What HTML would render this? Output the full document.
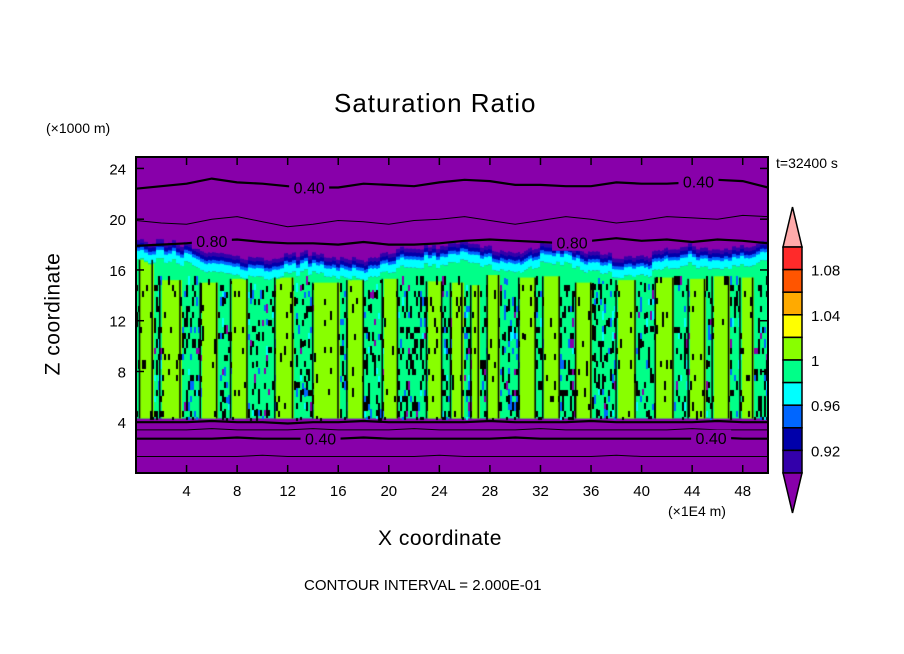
<!DOCTYPE html>
<html><head><meta charset="utf-8"><style>
body{margin:0;background:#fff;}
#wrap{position:relative;width:904px;height:654px;overflow:hidden;font-family:"Liberation Sans",sans-serif;}
.t{position:absolute;white-space:nowrap;color:#000;}
</style></head><body>
<div id="wrap">
<div class="t" style="left:334px;top:88px;font-size:26px;letter-spacing:1px;">Saturation Ratio</div>
<div class="t" style="left:46px;top:120px;font-size:14px;">(×1000 m)</div>
<div class="t" style="left:776px;top:155px;font-size:14px;">t=32400 s</div>
<div class="t" style="left:668px;top:503px;font-size:14px;">(×1E4 m)</div>
<div class="t" style="left:378px;top:527px;font-size:21px;letter-spacing:0.5px;">X coordinate</div>
<div class="t" style="left:-8px;top:302px;font-size:21px;transform:rotate(-90deg);letter-spacing:0.5px;">Z coordinate</div>
<div class="t" style="left:304px;top:577px;font-size:15px;">CONTOUR INTERVAL = 2.000E-01</div>
<canvas id="field" width="632" height="316" style="position:absolute;left:136px;top:157px;"></canvas>
<svg id="ov" width="904" height="654" style="position:absolute;left:0;top:0;"></svg>
</div>
<script>
// ---- data ----
const xTicks=[4,8,12,16,20,24,28,32,36,40,44,48];
const yTicks=[4,8,12,16,20,24];
const cbLevels=[1.08,1.06,1.04,1.02,1.00,0.98,0.96,0.94,0.92,0.90];
const cbLabels=["1.08","1.04","1","0.96","0.92"];
const cbColors=["#ff2a2a","#ff5500","#ffaa00","#ffff00","#88ff00","#00ff88","#00ffff","#0066ff","#0000aa","#3300aa"];
// yellow-green (>1.00) column segments [x0,x1,topHeight]
const ygCols=[[0.3,1.3,16.8],[1.9,3.5,15.2],[5.1,6.4,15.0],[7.5,8.8,15.3],[11,12.4,15.4],[14,16,15.0],[16.7,18,15.2],[19.5,20.7,15.3],[23,24.2,15.1],[24.9,25.8,15.0],[26.5,27.1,14.8],[27.8,28.7,15.6],[30.3,31.6,15.4],[32.2,33.5,15.5],[34.8,36,15.0],[38,39.5,15.2],[41.1,42.5,15.4],[43.7,45,15.3],[45.6,46.9,15.5],[47.8,48.8,15.4]];
// cloud top height at x = 0,2,...,50
const cloudTop=[17.2,17.1,16.9,16.3,16.0,15.7,16.0,16.3,15.9,15.6,16.4,16.6,16.8,17.0,16.6,16.0,16.9,16.8,16.3,15.9,15.8,16.6,16.8,16.6,16.7,17.1];
// contour lines heights at x = 0,2,...,50
const line040top=[22.4,22.6,22.8,23.2,22.9,22.8,22.6,22.5,22.5,22.8,22.7,22.6,22.9,23.1,23.0,22.7,22.7,22.6,22.6,22.9,22.8,22.8,22.9,23.1,23.0,22.5];
const line060=[19.9,19.7,19.6,20.0,20.2,19.8,19.4,19.6,19.9,19.8,19.6,19.9,20.0,20.2,19.9,19.6,19.9,20.2,20.0,19.7,19.9,20.2,20.1,20.0,20.3,20.2];
const line080=[17.9,18.0,18.1,18.3,18.4,18.2,18.1,18.1,18.0,18.2,18.0,18.0,18.1,18.3,18.4,18.3,18.2,18.1,18.3,18.5,18.3,18.4,18.2,18.4,18.3,18.1];
const lineLow1=[4.0,4.0,4.0,4.1,4.0,4.0,3.9,4.0,4.0,4.1,4.0,4.0,4.0,4.0,4.1,4.0,4.0,4.0,4.1,4.0,4.0,4.0,4.0,4.1,4.0,4.0];
const lineLow2=[3.4,3.4,3.4,3.5,3.4,3.4,3.4,3.5,3.4,3.4,3.4,3.5,3.4,3.4,3.4,3.4,3.5,3.4,3.4,3.4,3.4,3.4,3.5,3.4,3.4,3.4];
const line040low=[2.7,2.7,2.7,2.7,2.8,2.7,2.7,2.7,2.7,2.8,2.7,2.7,2.7,2.7,2.7,2.8,2.7,2.7,2.7,2.7,2.7,2.7,2.7,2.8,2.7,2.7];
const lineLow3=[1.3,1.3,1.3,1.3,1.3,1.4,1.3,1.3,1.3,1.3,1.3,1.3,1.4,1.3,1.3,1.3,1.3,1.3,1.3,1.4,1.3,1.3,1.3,1.3,1.3,1.3];

// ---- axes ----
const L=136,T=157,R=768,B=473,XMAX=50,YMAX=24.9;
const sx=v=>L+v/XMAX*(R-L);
const sy=v=>B-v/YMAX*(B-T);
const interp=(arr,x)=>{const f=x/2,i=Math.min(Math.floor(f),arr.length-2),t=f-i;return arr[i]*(1-t)+arr[i+1]*t;};

// ---- field on canvas ----
const cv=document.getElementById('field'),c=cv.getContext('2d');
const W=632,H=316;
c.fillStyle="#8800aa";c.fillRect(0,0,W,H);
function hash(a,b){let h=(a*374761393+b*668265263)|0;h=(h^(h>>>13))*1274126177|0;return ((h^(h>>>16))>>>0)/4294967296;}
const yBase=sy(4.3)-T;
for(let px=0;px<W;px+=2){
  const xv=px/(R-L)*XMAX;
  const j=(hash(px>>2,7)-0.5)*0.5;
  const top=interp(cloudTop,xv)+j;
  const yTop=sy(top)-T;
  c.fillStyle="#3300aa";c.fillRect(px,sy(top+1.1)-T,2,sy(top-0.3)-sy(top+1.1));
  c.fillStyle="#0000aa";c.fillRect(px,sy(top+0.8)-T,2,sy(top-0.3)-sy(top+0.8));
  c.fillStyle="#0066ff";c.fillRect(px,sy(top+0.5)-T,2,sy(top-0.3)-sy(top+0.5));
  c.fillStyle="#00ffff";c.fillRect(px,sy(top+0.25)-T,2,sy(top-0.4)-sy(top+0.25));
  c.fillStyle="#00ff88";c.fillRect(px,sy(top-0.4)-T,2,yBase-(sy(top-0.4)-T));
  const seg=ygCols.find(s=>xv>=s[0]&&xv<=s[1]);
  const yg=!!seg;
  if(yg){const ygTop=sy(Math.min(top-0.5,seg[2]))-T;c.fillStyle="#88ff00";c.fillRect(px,ygTop,2,yBase-ygTop);}
  const startY=sy(Math.min(top-1.0,15.5))-T;
  for(let py=Math.floor(startY);py<yBase;py+=3){
    const r=hash(px>>1,Math.floor(py/7));
    const dens=yg?0.06:0.22;
    if(r<dens){c.fillStyle="#000";c.fillRect(px,py,2,3);}
    else if(!yg&&r<dens+0.05){c.fillStyle="#0066ff";c.fillRect(px,py,2,3);}
    else if(!yg&&r<dens+0.07){c.fillStyle="#8800aa";c.fillRect(px,py,2,3);}
    else if(!yg&&r<dens+0.1){c.fillStyle="#00ffff";c.fillRect(px,py,2,3);}
  }
}
c.fillStyle="#000";
ygCols.forEach(s=>{[s[0],s[1]].forEach(e=>{c.fillRect(sx(e)-L-1,sy(s[2])-T,1.5,yBase-(sy(s[2])-T));});});

// ---- SVG overlay ----
const ov=document.getElementById('ov'),NS="http://www.w3.org/2000/svg";
function mk(tag,attrs,parent){const e=document.createElementNS(NS,tag);for(const k in attrs)e.setAttribute(k,attrs[k]);(parent||ov).appendChild(e);return e;}
function contour(arr,w,name){
  let d="";for(let i=0;i<arr.length;i++){d+=(i?"L":"M")+sx(i*2).toFixed(1)+","+sy(arr[i]).toFixed(1);}
  const p=mk('path',{d:d,fill:"none",stroke:"#000","stroke-width":w});
  
  
}
contour(line040top,2.2,'contour-040-upper');
contour(line060,1,'contour-060-upper');
contour(line080,2.2,'contour-080-upper');
contour(lineLow1,2.2,'contour-080-lower');
contour(lineLow2,1,'contour-060-lower');
contour(line040low,2.2,'contour-040-lower');
contour(lineLow3,1,'contour-020-lower');
function clabel(txt,x,arr,name){
  const y=interp(arr,x);
  mk('rect',{x:sx(x)-20,y:sy(y)-8,width:40,height:16,fill:"#8800aa"});
  const t=mk('text',{x:sx(x),y:sy(y)+6,"text-anchor":"middle","font-size":16,"font-family":"Liberation Sans, sans-serif",fill:"#000"});
  t.textContent=txt;
  
  
}
clabel("0.40",13.7,line040top,'contour-label-040-upper-left');
clabel("0.40",44.5,line040top,'contour-label-040-upper-right');
clabel("0.80",6,line080,'contour-label-080-left');
clabel("0.80",34.5,line080,'contour-label-080-right');
clabel("0.40",14.6,line040low,'contour-label-040-lower-left');
clabel("0.40",45.5,line040low,'contour-label-040-lower-right');
const fr=mk('rect',{x:L,y:T,width:R-L,height:B-T,fill:"none",stroke:"#000","stroke-width":2});


xTicks.forEach(v=>{
  mk('line',{x1:sx(v),x2:sx(v),y1:B,y2:B-8,stroke:"#000","stroke-width":1.5});
  mk('line',{x1:sx(v),x2:sx(v),y1:T,y2:T+8,stroke:"#000","stroke-width":1.5});
  const t=mk('text',{x:sx(v),y:B+23,"text-anchor":"middle","font-size":15,"font-family":"Liberation Sans, sans-serif"});
  t.textContent=v;
  
  
});
yTicks.forEach(v=>{
  mk('line',{x1:L,x2:L+8,y1:sy(v),y2:sy(v),stroke:"#000","stroke-width":1.5});
  mk('line',{x1:R,x2:R-8,y1:sy(v),y2:sy(v),stroke:"#000","stroke-width":1.5});
  const t=mk('text',{x:L-10,y:sy(v)+6,"text-anchor":"end","font-size":15,"font-family":"Liberation Sans, sans-serif"});
  t.textContent=v;
  
  
});
const cbX=783,cbW=19,cbTop=247,cbH=22.6;
const g=mk('g',{});


mk('polygon',{points:`${cbX},${cbTop} ${cbX+cbW/2},207 ${cbX+cbW},${cbTop}`,fill:"#ffaaaa",stroke:"#000","stroke-width":1.5},g);
cbColors.forEach((col,i)=>{
  const r=mk('rect',{x:cbX,y:cbTop+i*cbH,width:cbW,height:cbH,fill:col,stroke:"#000","stroke-width":1.5},g);
  
  
});
const cbBot=cbTop+cbColors.length*cbH;
mk('polygon',{points:`${cbX},${cbBot} ${cbX+cbW/2},513 ${cbX+cbW},${cbBot}`,fill:"#8800aa",stroke:"#000","stroke-width":1.5},g);
cbLabels.forEach((lb,i)=>{
  const t=mk('text',{x:811,y:cbTop+(1+2*i)*cbH+6,"font-size":15,"font-family":"Liberation Sans, sans-serif"},g);
  t.textContent=lb;
  
  
});
</script>
</body></html>
